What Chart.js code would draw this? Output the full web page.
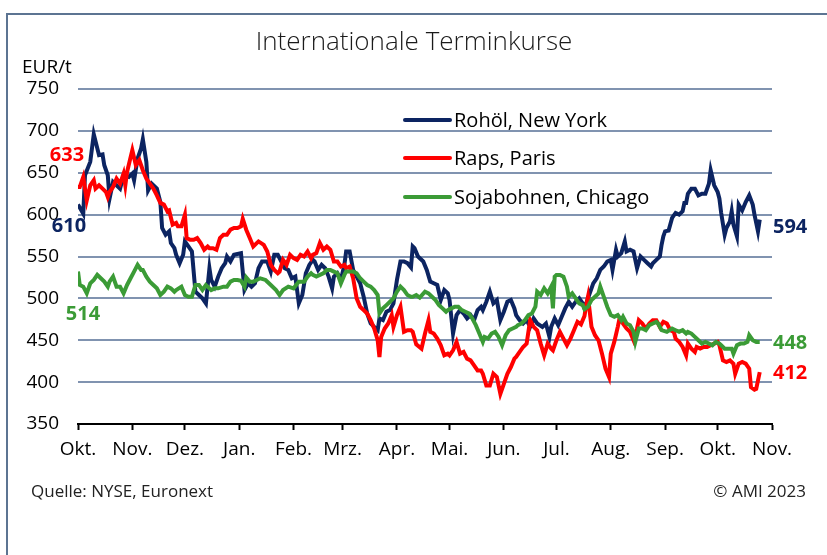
<!DOCTYPE html>
<html lang="de">
<head>
<meta charset="utf-8">
<title>Internationale Terminkurse</title>
<script src="https://cdn.jsdelivr.net/npm/chart.js@4.4.0/dist/chart.umd.min.js"></script>
<style>
  html, body { margin: 0; padding: 0; background: #fff; }
  canvas { display: block; }
</style>
</head>
<body>
<canvas id="chart" width="827" height="555"></canvas>
<script>
// x = days since 1 Oct 2022, y = EUR/t
const monthStarts = [0, 31, 61, 92, 123, 151, 182, 212, 243, 273, 304, 335, 365, 396];
const monthLabels = ['Okt.', 'Nov.', 'Dez.', 'Jan.', 'Feb.', 'Mrz.', 'Apr.', 'Mai.', 'Jun.', 'Jul.', 'Aug.', 'Sep.', 'Okt.', 'Nov.'];
const yTicks = [350, 400, 450, 500, 550, 600, 650, 700, 750];

const seriesNames = ['Rohöl, New York', 'Raps, Paris', 'Sojabohnen, Chicago'];
const startValues = [610, 633, 514];
const endValues = [594, 412, 448];

const rohoel = [
  [0,612],[3,601],[4,647],[7,663],[9,696],[12,671],[14,672],[15,659],[17,647],[18,619],
  [20,639],[22,635],[24,631],[26,647],[29,645],[31,649],[32,641],[34,667],[36,679],[37,690],
  [39,663],[40,629],[42,637],[45,631],[47,615],[48,584],[50,576],[52,580],[53,566],[55,560],
  [56,552],[58,542],[60,552],[61,568],[63,562],[65,556],[67,508],[69,504],[71,500],[73,494],
  [75,536],[76,522],[78,514],[80,526],[82,536],[84,542],[85,550],[87,544],[89,552],[91,553],
  [93,554],[95,510],[97,518],[99,514],[101,518],[103,536],[105,544],[108,544],[110,532],[112,552],
  [114,552],[116,544],[118,536],[120,534],[122,524],[124,526],[126,494],[128,504],[130,530],[132,540],
  [134,546],[135,544],[137,534],[139,540],[141,536],[143,526],[145,512],[146,526],[148,530],[150,522],
  [152,540],[153,556],[155,556],[157,534],[159,526],[161,518],[163,502],[165,482],[167,470],[169,466],
  [171,462],[172,476],[174,474],[176,484],[178,486],[180,494],[182,522],[184,544],[186,544],[188,542],
  [190,537],[191,562],[192,560],[194,550],[197,544],[199,534],[201,520],[203,518],[205,516],[207,498],
  [209,510],[211,506],[212,498],[214,458],[216,480],[218,486],[220,482],[222,476],[224,480],[226,474],
  [228,486],[230,490],[231,486],[233,496],[235,508],[237,494],[239,498],[241,474],[243,484],[245,496],
  [247,498],[249,488],[250,480],[252,474],[254,470],[256,474],[258,466],[260,476],[262,470],[265,466],
  [267,470],[269,454],[270,466],[272,476],[274,468],[276,478],[278,488],[280,496],[282,490],[284,496],
  [286,500],[288,494],[289,488],[291,500],[294,518],[296,524],[298,534],[300,538],[302,544],[304,546],
  [305,534],[307,558],[308,550],[310,554],[312,568],[313,556],[315,558],[317,556],[319,536],[321,550],
  [323,546],[325,542],[327,538],[328,542],[330,546],[332,550],[333,564],[334,574],[335,580],[337,581],
  [339,596],[341,602],[343,600],[345,604],[346,614],[347,614],[348,625],[350,631],[352,631],[354,623],
  [356,625],[358,625],[360,637],[361,653],[363,635],[365,627],[366,619],[367,602],[369,576],[370,584],
  [372,592],[373,604],[374,588],[376,574],[377,612],[379,605],[381,615],[383,623],[385,612],[386,600],
  [388,580],[389,594]
];

const raps = [
  [0,633],[1,633],[3,645],[5,617],[7,635],[9,641],[10,631],[12,635],[14,631],[16,627],
  [17,621],[18,627],[20,633],[22,643],[24,637],[26,649],[27,635],[28,651],[31,677],[33,659],
  [35,665],[37,653],[39,643],[41,637],[43,631],[45,623],[47,614],[49,612],[51,604],[52,605],
  [54,588],[56,590],[57,586],[59,586],[61,600],[62,572],[64,570],[66,570],[68,572],[70,566],
  [72,558],[74,562],[75,560],[77,560],[79,558],[81,572],[83,576],[85,576],[87,582],[89,584],
  [91,584],[93,586],[94,595],[96,582],[98,572],[100,562],[103,568],[106,564],[108,556],[110,540],
  [112,534],[114,530],[115,532],[117,546],[119,540],[121,552],[123,548],[125,546],[127,552],[129,550],
  [131,556],[133,548],[134,552],[136,554],[138,566],[140,558],[142,562],[144,558],[146,544],[148,544],
  [150,538],[152,540],[153,536],[155,538],[157,524],[159,500],[161,490],[163,486],[165,482],[167,474],
  [169,464],[171,450],[172,430],[173,454],[175,464],[177,470],[179,480],[180,466],[182,480],[184,490],
  [186,460],[188,462],[190,462],[191,460],[193,445],[196,440],[198,458],[200,474],[201,460],[203,458],
  [205,452],[207,444],[209,432],[211,434],[212,432],[214,438],[216,448],[218,434],[220,436],[222,428],
  [224,426],[226,420],[228,414],[230,414],[231,410],[233,396],[235,396],[237,410],[239,406],[241,386],
  [243,398],[245,410],[247,418],[249,428],[250,430],[252,436],[254,442],[256,446],[258,474],[260,466],
  [262,462],[264,446],[266,432],[268,446],[270,440],[271,438],[273,450],[275,460],[277,452],[279,444],
  [281,452],[283,462],[285,472],[287,469],[289,479],[290,492],[291,502],[293,466],[295,456],[297,450],
  [299,434],[301,416],[303,406],[304,434],[306,448],[308,466],[309,476],[311,470],[313,464],[315,460],
  [317,450],[319,464],[320,474],[322,470],[324,464],[326,470],[328,474],[330,474],[332,466],[334,472],
  [336,470],[338,462],[340,460],[341,452],[343,448],[345,442],[347,432],[348,446],[350,440],[352,436],
  [353,442],[355,440],[357,442],[359,442],[361,444],[363,446],[365,448],[366,444],[368,426],[370,424],
  [372,426],[374,422],[375,410],[377,422],[379,424],[381,422],[383,416],[384,394],[386,391],[387,392],
  [389,412]
];

const soja = [
  [0,532],[1,516],[3,514],[5,506],[7,518],[9,522],[11,528],[13,524],[15,520],[17,514],
  [18,520],[20,526],[22,514],[24,514],[26,506],[28,516],[30,524],[32,532],[34,540],[36,534],
  [37,534],[39,526],[41,520],[43,516],[45,512],[47,504],[49,508],[51,514],[53,512],[55,508],
  [56,510],[59,514],[61,504],[63,502],[65,502],[67,516],[69,516],[71,510],[73,516],[75,512],
  [76,510],[78,512],[80,512],[83,514],[85,514],[87,520],[89,522],[91,522],[93,521],[95,514],
  [96,525],[98,520],[100,520],[102,522],[104,524],[107,522],[110,516],[113,510],[115,504],[117,510],
  [120,514],[123,512],[126,520],[129,520],[131,526],[133,530],[134,528],[136,526],[138,528],[140,530],
  [142,534],[144,534],[146,532],[148,530],[150,518],[152,528],[153,532],[155,532],[157,532],[159,530],
  [161,524],[163,520],[165,516],[167,514],[169,510],[171,504],[172,482],[174,488],[176,492],[178,496],
  [180,500],[182,508],[184,514],[186,510],[188,504],[190,502],[191,502],[193,504],[195,501],[198,508],
  [200,506],[202,502],[204,498],[206,492],[208,488],[210,484],[211,486],[213,488],[215,490],[217,490],
  [219,486],[221,484],[223,482],[225,476],[227,468],[229,458],[231,448],[232,454],[234,452],[236,458],
  [238,460],[240,454],[242,444],[244,456],[246,462],[248,464],[250,466],[251,468],[253,470],[255,474],
  [257,480],[259,482],[261,490],[262,508],[264,504],[266,512],[268,506],[270,514],[271,488],[272,526],
  [273,528],[275,528],[277,526],[279,514],[280,502],[282,506],[284,500],[286,494],[288,492],[289,487],
  [291,490],[293,498],[295,502],[297,506],[298,514],[300,502],[302,490],[304,480],[306,478],[308,480],
  [310,474],[311,478],[313,470],[315,468],[317,460],[318,448],[320,464],[322,464],[324,462],[326,468],
  [328,470],[330,472],[331,470],[333,462],[336,460],[339,464],[341,462],[343,460],[345,462],[347,458],
  [348,460],[350,458],[352,454],[354,450],[356,446],[358,448],[360,446],[362,444],[364,448],[366,446],
  [367,444],[369,440],[371,440],[373,440],[374,434],[376,444],[378,446],[380,446],[382,448],[383,456],
  [385,450],[387,448],[389,448]
];

const colors = ['#0c2461', '#ff0000', '#3b9b36'];
const FONT = '"Open Sans", "Noto Sans", sans-serif';

const toPoints = arr => arr.map(([d, v]) => ({ x: d, y: v }));

// frame, title, legend, value labels and footer drawn on the canvas
const decorations = {
  id: 'decorations',
  beforeDraw(chart) {
    const ctx = chart.ctx;
    ctx.save();
    ctx.fillStyle = '#fff';
    ctx.fillRect(0, 0, chart.width, chart.height);
    ctx.strokeStyle = '#5c7492';
    ctx.lineWidth = 2;
    ctx.beginPath();
    ctx.moveTo(7, chart.height + 5);
    ctx.lineTo(7, 14);
    ctx.lineTo(chart.width + 5, 14);
    ctx.stroke();
    ctx.restore();
  },
  afterDraw(chart) {
    const ctx = chart.ctx;
    const y = chart.scales.y;
    const area = chart.chartArea;
    ctx.save();

    ctx.fillStyle = '#1a1a1a';
    ctx.textAlign = 'center';
    ctx.textBaseline = 'alphabetic';
    ctx.font = '300 26px ' + FONT;
    ctx.fillText('Internationale Terminkurse', 414, 50);

    ctx.fillStyle = '#000';
    ctx.textAlign = 'left';
    ctx.font = '19px ' + FONT;
    ctx.fillText('EUR/t', 22, 73);

    // legend
    const legendY = [120, 158, 197];
    ctx.font = '20px ' + FONT;
    ctx.textBaseline = 'middle';
    seriesNames.forEach((name, i) => {
      ctx.strokeStyle = colors[i];
      ctx.lineWidth = 4;
      ctx.lineCap = 'round';
      ctx.beginPath();
      ctx.moveTo(405, legendY[i]);
      ctx.lineTo(450, legendY[i]);
      ctx.stroke();
      ctx.fillStyle = '#000';
      ctx.fillText(name, 454, legendY[i] + 1);
    });

    // start / end values
    ctx.font = 'bold 20px ' + FONT;
    const startPos = [[69, 20], [67, -32], [83, 28]];
    startValues.forEach((v, i) => {
      ctx.fillStyle = colors[i];
      ctx.textAlign = 'center';
      ctx.fillText(String(v), startPos[i][0], y.getPixelForValue(v) + startPos[i][1]);
    });
    const endDy = [8, 1, 1];
    endValues.forEach((v, i) => {
      ctx.fillStyle = colors[i];
      ctx.textAlign = 'left';
      ctx.fillText(String(v), area.right + 1, y.getPixelForValue(v) + endDy[i]);
    });

    // footer
    ctx.fillStyle = '#222';
    ctx.font = '17px ' + FONT;
    ctx.textBaseline = 'alphabetic';
    ctx.textAlign = 'left';
    ctx.fillText('Quelle: NYSE, Euronext', 31, 497);
    ctx.textAlign = 'right';
    ctx.fillText('© AMI 2023', 806, 497);
    ctx.restore();
  }
};

const datasets = [rohoel, raps, soja].map((arr, i) => ({
  label: seriesNames[i],
  data: toPoints(arr),
  borderColor: colors[i],
  borderWidth: 4,
  pointRadius: 0,
  tension: 0,
  fill: false,
  order: 3 - i
}));

new Chart(document.getElementById('chart'), {
  type: 'line',
  data: { datasets },
  plugins: [decorations],
  options: {
    responsive: false,
    animation: false,
    devicePixelRatio: 1,
    layout: { padding: { left: 0, right: 55, top: 89, bottom: 0 } },
    plugins: { legend: { display: false }, tooltip: { enabled: false } },
    scales: {
      x: {
        type: 'linear',
        min: 0,
        max: 396,
        afterBuildTicks: s => { s.ticks = monthStarts.map(v => ({ value: v })); },
        afterFit: s => { s.height = 131; },
        ticks: {
          autoSkip: false,
          maxRotation: 0,
          padding: 8,
          color: '#000',
          font: { family: FONT, size: 19 },
          callback: (v, i) => monthLabels[i]
        },
        grid: { drawOnChartArea: false, drawTicks: true, tickLength: 6, tickColor: '#000', tickWidth: 2 },
        border: { display: true, color: '#000', width: 2 }
      },
      y: {
        min: 350,
        max: 750,
        afterBuildTicks: s => { s.ticks = yTicks.map(v => ({ value: v })); },
        afterFit: s => { s.width = 78; },
        ticks: {
          padding: 19,
          color: '#000',
          font: { family: FONT, size: 19 }
        },
        grid: {
          drawTicks: false,
          lineWidth: 2,
          color: c => (c.tick && c.tick.value === 350) ? 'rgba(0,0,0,0)' : '#8093b0'
        },
        border: { display: false }
      }
    }
  }
});
</script>
</body>
</html>
